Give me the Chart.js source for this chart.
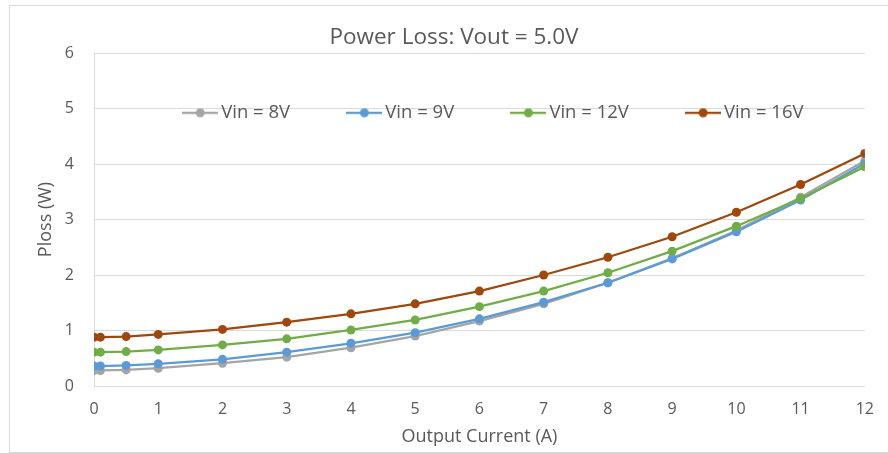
<!DOCTYPE html>
<html lang="en">
<head>
  <meta charset="UTF-8">
  <title>Power Loss: Vout = 5.0V</title>
  <script src="https://cdn.jsdelivr.net/npm/chart.js"></script>
  <style>
    html, body { margin: 0; padding: 0; background: #fff; overflow: hidden; }
    .frame { position: absolute; left: 9px; top: 5px; width: 900px; height: 446px; border: 1px solid #d9d9d9; }
    #chart { position: absolute; left: 0; top: 0; }
  </style>
</head>
<body>
<div class="frame"></div>
<canvas id="chart" width="888" height="453"></canvas>

<script>
  // output current (A)
  const current = [0, 0.1, 0.5, 1, 2, 3, 4, 5, 6, 7, 8, 9, 10, 11, 12];
  // power loss (W) per input voltage
  const vin8  = [0.28, 0.28, 0.29, 0.32, 0.41, 0.52, 0.69, 0.90, 1.17, 1.48, 1.86, 2.30, 2.80, 3.40, 4.06];
  const vin9  = [0.36, 0.36, 0.37, 0.40, 0.48, 0.61, 0.77, 0.96, 1.21, 1.51, 1.86, 2.29, 2.78, 3.35, 4.01];
  const vin12 = [0.61, 0.61, 0.62, 0.65, 0.74, 0.85, 1.01, 1.19, 1.43, 1.71, 2.04, 2.43, 2.88, 3.38, 3.95];
  const vin16 = [0.88, 0.88, 0.89, 0.93, 1.02, 1.15, 1.30, 1.48, 1.71, 2.00, 2.32, 2.69, 3.13, 3.63, 4.19];
  const seriesNames = ['Vin = 8V', 'Vin = 9V', 'Vin = 12V', 'Vin = 16V'];
  const seriesColors = ['#a5a5a5', '#5b9bd5', '#70ad47', '#9e480e'];

  const txt = '#595959';
  const grid = '#d9d9d9';
  const font = '"Open Sans"';

  // little line-with-dot icon for the legend
  function legendIcon(color) {
    const c = document.createElement('canvas');
    c.width = 36; c.height = 10;
    const g = c.getContext('2d');
    g.strokeStyle = color; g.lineWidth = 2.25;
    g.beginPath(); g.moveTo(0, 5); g.lineTo(36, 5); g.stroke();
    g.fillStyle = color;
    g.beginPath(); g.arc(18, 5, 4.5, 0, Math.PI * 2); g.fill();
    return c;
  }
  const icons = seriesColors.map(legendIcon);

  const allSeries = [vin8, vin9, vin12, vin16];
  const datasets = allSeries.map((vals, i) => ({
    label: seriesNames[i],
    data: current.map((x, j) => ({ x: x, y: vals[j] })),
    borderColor: seriesColors[i],
    backgroundColor: seriesColors[i],
    borderWidth: 2.25,
    pointRadius: 4.5,
    pointBorderWidth: 0,
    pointBackgroundColor: seriesColors[i],
    tension: 0,
    order: 4 - i
  }));

  // keep the legend out of the layout and draw it inside the plot area
  const placeBlocks = {
    id: 'placeBlocks',
    beforeLayout(chart) {
      const lg = chart.legend;
      if (lg && !lg._wrapped) {
        const fit = lg.fit.bind(lg);
        lg.fit = function () { fit(); this._realHeight = this.height; this.height = 0; };
        lg._wrapped = true;
      }
    },
    afterLayout(chart) {
      const lg = chart.legend;
      lg.top = 41; lg.bottom = 41 + 170; lg.height = 170;
      lg.left = 105; lg.right = 887; lg.width = 782;
      const t = chart.titleBlock;
      t.left = 20; t.right = 888;
    }
  };

  new Chart(document.getElementById('chart'), {
    type: 'line',
    data: { datasets: datasets },
    plugins: [placeBlocks],
    options: {
      responsive: false,
      animation: false,
      devicePixelRatio: 1,
      layout: { padding: { left: 0, right: 23, top: 0, bottom: 0 } },
      plugins: {
        title: {
          display: true,
          text: 'Power Loss: Vout = 5.0V',
          color: txt,
          font: { family: font, size: 22.5, weight: 'normal' },
          padding: { top: 24.5, bottom: 1.5 }
        },
        legend: {
          display: true,
          position: 'top',
          labels: {
            usePointStyle: true,
            pointStyleWidth: 23.5,
            padding: 62.5,
            color: txt,
            font: { family: font, size: 18.5 },
            sort: (a, b) => a.datasetIndex - b.datasetIndex,
            generateLabels(chart) {
              const items = Chart.defaults.plugins.legend.labels.generateLabels(chart);
              items.forEach(it => { it.pointStyle = icons[it.datasetIndex]; });
              return items;
            }
          }
        },
        tooltip: { enabled: false }
      },
      scales: {
        x: {
          type: 'linear',
          min: 0, max: 12,
          ticks: { stepSize: 1, color: txt, padding: 14, font: { family: font, size: 16 } },
          grid: { display: false, drawTicks: false },
          border: { display: true, color: grid, width: 1 },
          title: { display: true, text: 'Output Current (A)', color: txt, font: { family: font, size: 18 }, padding: { top: 0, bottom: 5 } },
          afterFit: s => { s.height = 67; }
        },
        y: {
          min: 0, max: 6,
          ticks: { stepSize: 1, color: txt, padding: 20, font: { family: font, size: 16 } },
          grid: { color: grid, drawTicks: false },
          border: { display: true, color: grid, width: 1 },
          title: { display: true, text: 'Ploss (W)', color: txt, font: { family: font, size: 18 }, padding: { top: 35, bottom: 0 } },
          afterFit: s => { s.width = 94; }
        }
      }
    }
  });
</script>
</body>
</html>
